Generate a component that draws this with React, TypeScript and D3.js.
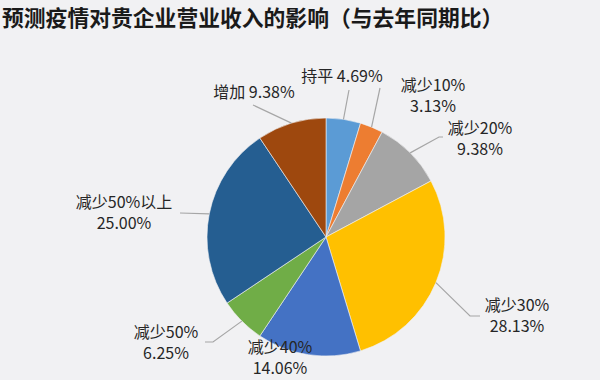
import React from "react";
import * as d3 from "d3";

const TITLE = "预测疫情对贵企业营业收入的影响（与去年同期比）";
const categories = ["持平", "减少10%", "减少20%", "减少30%", "减少40%", "减少50%", "减少50%以上", "增加"];
const values = [4.69, 3.13, 9.38, 28.13, 14.06, 6.25, 25.0, 9.38];
const colors = ["#5B9BD5", "#ED7D31", "#A5A5A5", "#FFC000", "#4472C4", "#70AD47", "#255E91", "#9E480E"];

// label layout: text center x, first-line center y, single-line flag, leader elbow points
const labelLayout = [
  { x: 342, y: 76, single: true, leader: [[349, 90]] },
  { x: 433, y: 85, single: false, leader: [[380, 88]] },
  { x: 480, y: 128, single: false, leader: [[439, 137], [443, 137]] },
  { x: 517, y: 305, single: false, leader: [[470, 316], [480, 316]] },
  { x: 280, y: 347, single: false, leader: [] },
  { x: 166, y: 332, single: false, leader: [[213, 342], [205, 342]] },
  { x: 124, y: 202, single: false, leader: [[180, 213]] },
  { x: 254, y: 92, single: true, leader: [[253, 105]] },
];

const W = 600, H = 380;
const cx = 326, cy = 237, R = 119;

export default function App() {
  const pie = d3.pie<number>().sort(null).value((d) => d)(values);
  const arc = d3.arc<d3.PieArcDatum<number>>().innerRadius(0).outerRadius(R);
  const font = "'Noto Sans CJK SC', 'Noto Sans', sans-serif";
  return (
    <svg width={W} height={H} style={{ position: "absolute", left: 0, top: 0, background: "#F1F1F3" }}>
      <rect width={W} height={H} fill="#F1F1F3" />
      <text x={2} y={25.5} fontFamily={font} fontWeight="bold" fontSize={21.8} fill="#1a1a1a">{TITLE}</text>
      <g transform={`translate(${cx},${cy})`}>
        {pie.map((p, i) => (
          <path key={i} d={arc(p) || ""} fill={colors[i]} stroke="#F1F1F3" strokeWidth={0.6} />
        ))}
      </g>
      {pie.map((p, i) => {
        const L = labelLayout[i];
        if (!L.leader.length) return null;
        const a = (p.startAngle + p.endAngle) / 2;
        const sx = cx + R * Math.sin(a);
        const sy = cy - R * Math.cos(a);
        const pts = [[sx, sy], ...L.leader];
        return (
          <polyline key={"l" + i} points={pts.map((q) => q.join(",")).join(" ")} fill="none" stroke="#A6A6A6" strokeWidth={1.2} />
        );
      })}
      {pie.map((p, i) => {
        const L = labelLayout[i];
        const pct = values[i].toFixed(2) + "%";
        const common = { fontFamily: font, fontSize: 16, fill: "#262626", textAnchor: "middle" as const };
        return L.single ? (
          <text key={"t" + i} x={L.x} y={L.y + 6} fontSize={16.5} {...common}>{categories[i] + " " + pct}</text>
        ) : (
          <g key={"t" + i}>
            <text x={L.x} y={L.y + 5.5} {...common}>{categories[i]}</text>
            <text x={L.x} y={L.y + 26.5} {...common}>{pct}</text>
          </g>
        );
      })}
    </svg>
  );
}
